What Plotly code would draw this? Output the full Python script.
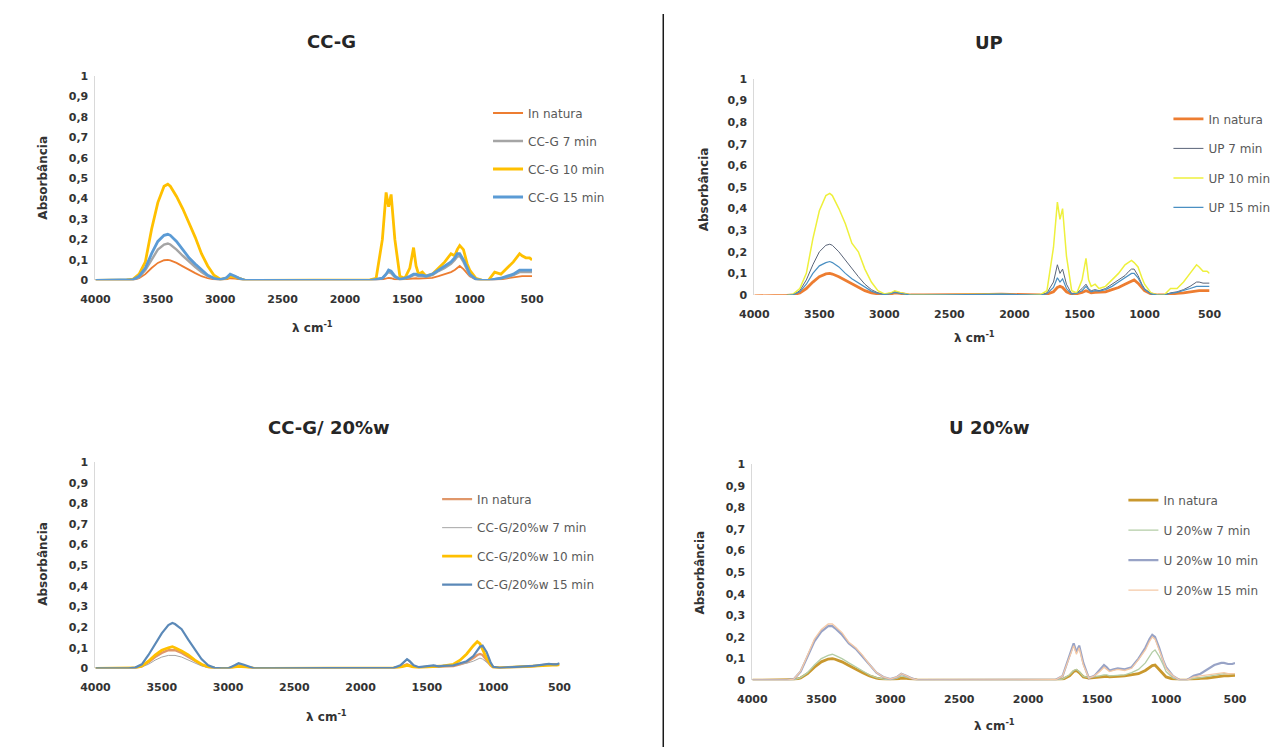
import plotly.graph_objects as go

# ---------------- data ----------------
wavenumber = [4000, 3900, 3800, 3750, 3700, 3650, 3600, 3550, 3500, 3450, 3420, 3400, 3350, 3300,
              3250, 3200, 3150, 3100, 3050, 3000, 2950, 2920, 2880, 2850, 2800, 2700, 2600, 2500,
              2400, 2300, 2200, 2100, 2000, 1900, 1800, 1750, 1700, 1670, 1650, 1630, 1600, 1560,
              1520, 1480, 1450, 1430, 1410, 1380, 1350, 1300, 1250, 1200, 1150, 1120, 1100, 1080,
              1050, 1020, 1000, 950, 900, 850, 800, 750, 700, 650, 600, 580, 550, 520, 500]

# Panel 1: CC-G
ccg_natura = [0, 0, 0, 0, 0.001, 0.01, 0.03, 0.06, 0.085, 0.098, 0.10, 0.097, 0.085, 0.068,
              0.05, 0.035, 0.02, 0.01, 0.004, 0.001, 0.005, 0.01, 0.008, 0.004, 0, 0, 0, 0,
              0, 0.002, 0, 0, 0, 0, 0, 0.002, 0.005, 0.01, 0.012, 0.01, 0.005, 0.003,
              0.005, 0.008, 0.01, 0.01, 0.008, 0.01, 0.01, 0.012, 0.02, 0.03, 0.04, 0.05, 0.06, 0.07,
              0.055, 0.035, 0.02, 0.005, 0, 0, 0.002, 0.005, 0.01, 0.015, 0.02, 0.02, 0.02, 0.02, 0.02]
ccg_7 = [0, 0, 0, 0, 0.002, 0.015, 0.05, 0.10, 0.15, 0.175, 0.18, 0.175, 0.15, 0.12,
         0.09, 0.065, 0.04, 0.02, 0.008, 0.002, 0.01, 0.025, 0.018, 0.01, 0, 0, 0, 0,
         0, 0.003, 0, 0, 0, 0, 0, 0.004, 0.01, 0.03, 0.04, 0.035, 0.015, 0.005,
         0.008, 0.015, 0.025, 0.025, 0.02, 0.02, 0.018, 0.025, 0.045, 0.06, 0.08, 0.10, 0.115, 0.12,
         0.09, 0.05, 0.025, 0.005, 0, 0, 0.004, 0.01, 0.015, 0.025, 0.04, 0.04, 0.04, 0.04, 0.04]
ccg_10 = [0, 0, 0, 0.002, 0.005, 0.03, 0.09, 0.25, 0.38, 0.46, 0.47, 0.46, 0.41, 0.35,
          0.28, 0.21, 0.13, 0.07, 0.025, 0.005, 0.01, 0.02, 0.015, 0.008, 0, 0, 0, 0,
          0, 0.002, 0, 0, 0, 0, 0.002, 0.01, 0.2, 0.43, 0.36, 0.42, 0.2, 0.02,
          0.01, 0.06, 0.16, 0.07, 0.03, 0.04, 0.02, 0.03, 0.06, 0.09, 0.13, 0.12, 0.15, 0.17,
          0.15, 0.08, 0.05, 0.01, 0, 0, 0.04, 0.03, 0.06, 0.09, 0.13, 0.12, 0.11, 0.11, 0.10]
ccg_15 = [0, 0, 0, 0, 0.003, 0.02, 0.06, 0.13, 0.19, 0.22, 0.225, 0.22, 0.19, 0.15,
          0.11, 0.08, 0.05, 0.025, 0.01, 0.003, 0.012, 0.03, 0.02, 0.01, 0, 0, 0, 0,
          0, 0.003, 0, 0, 0, 0, 0, 0.004, 0.01, 0.03, 0.05, 0.045, 0.02, 0.005,
          0.01, 0.02, 0.03, 0.03, 0.025, 0.025, 0.02, 0.03, 0.05, 0.07, 0.09, 0.11, 0.13, 0.13,
          0.10, 0.06, 0.03, 0.005, 0, 0, 0.005, 0.01, 0.02, 0.03, 0.05, 0.05, 0.05, 0.05, 0.05]

# Panel 2: UP
up_natura = [-0.004, -0.004, -0.003, -0.002, 0.001, 0.01, 0.03, 0.06, 0.085, 0.098, 0.10, 0.097, 0.085, 0.068,
             0.05, 0.035, 0.02, 0.01, 0.004, 0.001, 0.005, 0.01, 0.008, 0.004, 0, 0, 0, 0.002,
             0, 0.002, 0.003, 0.004, 0.002, 0, 0, 0.004, 0.015, 0.035, 0.04, 0.035, 0.015, 0.004,
             0.006, 0.012, 0.02, 0.015, 0.01, 0.012, 0.012, 0.015, 0.025, 0.035, 0.05, 0.06, 0.065, 0.07,
             0.055, 0.035, 0.02, 0.005, 0, 0, 0.005, 0.008, 0.01, 0.015, 0.02, 0.02, 0.02, 0.02, 0.02]
up_7 = [-0.004, -0.004, -0.003, -0.002, 0.002, 0.02, 0.07, 0.14, 0.20, 0.23, 0.235, 0.23, 0.20, 0.16,
        0.12, 0.085, 0.05, 0.025, 0.01, 0.003, 0.008, 0.015, 0.01, 0.006, 0, 0, 0, 0.002,
        0, 0.002, 0.003, 0.004, 0.002, 0, 0, 0.01, 0.06, 0.14, 0.10, 0.12, 0.05, 0.005,
        0.01, 0.03, 0.05, 0.03, 0.02, 0.025, 0.02, 0.03, 0.05, 0.07, 0.09, 0.11, 0.12, 0.12,
        0.09, 0.05, 0.03, 0.005, 0, 0, 0.01, 0.015, 0.025, 0.04, 0.06, 0.06, 0.055, 0.055, 0.055]
up_10 = [-0.004, -0.004, -0.003, -0.002, 0.005, 0.03, 0.10, 0.26, 0.39, 0.46, 0.47, 0.46, 0.40, 0.33,
         0.24, 0.20, 0.12, 0.06, 0.02, 0.005, 0.01, 0.02, 0.012, 0.008, 0, 0, 0, 0.002,
         0, 0.002, 0.003, 0.004, 0.002, 0, 0.002, 0.02, 0.22, 0.43, 0.35, 0.40, 0.18, 0.02,
         0.01, 0.07, 0.17, 0.07, 0.04, 0.05, 0.03, 0.04, 0.07, 0.10, 0.14, 0.15, 0.16, 0.15,
         0.13, 0.08, 0.05, 0.01, 0, 0, 0.03, 0.03, 0.06, 0.10, 0.14, 0.13, 0.11, 0.11, 0.10]
up_15 = [-0.004, -0.004, -0.003, -0.002, 0.002, 0.015, 0.05, 0.10, 0.135, 0.15, 0.155, 0.15, 0.13, 0.10,
         0.075, 0.055, 0.035, 0.018, 0.007, 0.002, 0.006, 0.012, 0.008, 0.005, 0, 0, 0, 0.002,
         0, 0.002, 0.003, 0.004, 0.002, 0, 0, 0.006, 0.035, 0.08, 0.06, 0.075, 0.03, 0.004,
         0.008, 0.02, 0.04, 0.025, 0.015, 0.02, 0.018, 0.025, 0.04, 0.06, 0.08, 0.095, 0.10, 0.10,
         0.08, 0.045, 0.025, 0.005, 0, 0, 0.008, 0.012, 0.02, 0.03, 0.04, 0.04, 0.04, 0.04, 0.04]

# Panel 3: CC-G / 20%w
ccg20_natura = [0, 0, 0, 0, 0.002, 0.01, 0.03, 0.055, 0.075, 0.088, 0.09, 0.088, 0.075, 0.055,
                0.035, 0.018, 0.006, 0.001, 0, 0, 0.008, 0.012, 0.01, 0.005, 0, 0, 0, 0,
                0, 0.002, 0, 0.002, 0.002, 0, 0, 0.002, 0.008, 0.015, 0.02, 0.015, 0.008, 0.005,
                0.006, 0.008, 0.01, 0.01, 0.01, 0.01, 0.01, 0.012, 0.02, 0.03, 0.05, 0.065, 0.07, 0.065,
                0.04, 0.015, 0.005, 0.003, 0.005, 0.005, 0.006, 0.008, 0.01, 0.015, 0.018, 0.02, 0.02, 0.018, 0.02]
ccg20_7 = [0, 0, 0, 0, 0.001, 0.008, 0.02, 0.04, 0.055, 0.063, 0.065, 0.063, 0.055, 0.04,
           0.025, 0.012, 0.004, 0.001, 0, 0, 0.015, 0.02, 0.015, 0.008, 0, 0, 0, 0,
           0, 0.002, 0, 0.002, 0.002, 0, 0, 0.003, 0.012, 0.03, 0.04, 0.03, 0.012, 0.006,
           0.008, 0.012, 0.015, 0.012, 0.01, 0.012, 0.012, 0.015, 0.02, 0.025, 0.035, 0.045, 0.05, 0.045,
           0.03, 0.012, 0.005, 0.003, 0.005, 0.005, 0.006, 0.008, 0.012, 0.015, 0.02, 0.022, 0.02, 0.02, 0.022]
ccg20_10 = [0, 0, 0, 0, 0.002, 0.012, 0.035, 0.065, 0.088, 0.10, 0.105, 0.10, 0.085, 0.065,
            0.04, 0.02, 0.007, 0.001, 0, 0, 0.006, 0.01, 0.008, 0.004, 0, 0, 0, 0,
            0, 0.002, 0, 0.002, 0.002, 0, 0, 0.002, 0.006, 0.012, 0.015, 0.012, 0.006, 0.004,
            0.005, 0.008, 0.01, 0.01, 0.01, 0.012, 0.015, 0.02, 0.04, 0.07, 0.11, 0.13, 0.12, 0.09,
            0.05, 0.02, 0.006, 0.003, 0.005, 0.005, 0.006, 0.008, 0.01, 0.014, 0.016, 0.018, 0.016, 0.016, 0.018]
ccg20_15 = [0, 0, 0, 0, 0.004, 0.02, 0.065, 0.12, 0.17, 0.21, 0.22, 0.215, 0.19, 0.14,
            0.09, 0.045, 0.015, 0.003, 0, 0, 0.015, 0.025, 0.018, 0.01, 0, 0, 0, 0,
            0, 0.002, 0, 0.002, 0.002, 0, 0, 0.003, 0.015, 0.035, 0.045, 0.035, 0.015, 0.006,
            0.008, 0.012, 0.015, 0.012, 0.01, 0.012, 0.012, 0.015, 0.025, 0.035, 0.06, 0.09, 0.105, 0.11,
            0.08, 0.03, 0.008, 0.003, 0.005, 0.005, 0.006, 0.01, 0.012, 0.016, 0.02, 0.022, 0.02, 0.02, 0.025]

# Panel 4: U 20%w
u20_natura = [0, 0, 0, 0, 0.002, 0.01, 0.03, 0.06, 0.085, 0.098, 0.10, 0.097, 0.085, 0.068,
              0.05, 0.035, 0.02, 0.01, 0.004, 0.001, 0.005, 0.01, 0.008, 0.004, 0, 0, 0, 0,
              0, 0.002, 0, 0, 0, 0, 0, 0.004, 0.02, 0.04, 0.045, 0.035, 0.015, 0.01,
              0.012, 0.015, 0.018, 0.018, 0.015, 0.018, 0.018, 0.02, 0.025, 0.03, 0.045, 0.06, 0.068, 0.07,
              0.05, 0.03, 0.015, 0.005, 0, 0, 0.005, 0.008, 0.01, 0.015, 0.02, 0.02, 0.02, 0.02, 0.022]
u20_7 = [0, 0, 0, 0, 0.002, 0.012, 0.035, 0.07, 0.10, 0.115, 0.12, 0.115, 0.10, 0.08,
         0.06, 0.04, 0.024, 0.012, 0.005, 0.002, 0.01, 0.02, 0.015, 0.008, 0, 0, 0, 0,
         0, 0.002, 0, 0, 0, 0, 0, 0.005, 0.025, 0.045, 0.05, 0.04, 0.018, 0.012,
         0.015, 0.02, 0.025, 0.025, 0.02, 0.022, 0.022, 0.025, 0.035, 0.05, 0.08, 0.11, 0.13, 0.14,
         0.11, 0.07, 0.04, 0.01, 0, 0, 0.008, 0.012, 0.018, 0.025, 0.03, 0.03, 0.03, 0.03, 0.03]
u20_10 = [0, 0, 0, 0, 0.005, 0.04, 0.11, 0.18, 0.225, 0.25, 0.25, 0.24, 0.21, 0.17,
          0.145, 0.11, 0.07, 0.035, 0.015, 0.005, 0.015, 0.03, 0.02, 0.01, 0, 0, 0, 0,
          0, 0.002, 0, 0, 0, 0, 0.002, 0.02, 0.12, 0.17, 0.13, 0.16, 0.08, 0.01,
          0.02, 0.05, 0.07, 0.06, 0.045, 0.05, 0.055, 0.05, 0.06, 0.10, 0.15, 0.19, 0.21, 0.20,
          0.15, 0.09, 0.06, 0.02, 0, 0, 0.02, 0.03, 0.05, 0.07, 0.08, 0.08, 0.075, 0.075, 0.08]
u20_15 = [0, 0, 0, 0, 0.005, 0.042, 0.115, 0.19, 0.235, 0.26, 0.26, 0.25, 0.22, 0.175,
          0.15, 0.115, 0.072, 0.036, 0.015, 0.005, 0.015, 0.03, 0.02, 0.01, 0, 0, 0, 0,
          0, 0.002, 0, 0, 0, 0, 0.002, 0.02, 0.11, 0.16, 0.12, 0.15, 0.07, 0.01,
          0.02, 0.04, 0.06, 0.05, 0.04, 0.045, 0.05, 0.045, 0.055, 0.095, 0.14, 0.18, 0.20, 0.19,
          0.14, 0.085, 0.055, 0.02, 0, 0, 0.015, 0.02, 0.025, 0.03, 0.035, 0.035, 0.03, 0.03, 0.03]

panel_titles = ["CC-G", "UP", "CC-G/ 20%w", "U 20%w"]
panel_series = [
    [("In natura", ccg_natura), ("CC-G 7 min", ccg_7), ("CC-G 10 min", ccg_10), ("CC-G 15 min", ccg_15)],
    [("In natura", up_natura), ("UP 7 min", up_7), ("UP 10 min", up_10), ("UP 15 min", up_15)],
    [("In natura", ccg20_natura), ("CC-G/20%w 7 min", ccg20_7), ("CC-G/20%w 10 min", ccg20_10),
     ("CC-G/20%w 15 min", ccg20_15)],
    [("In natura", u20_natura), ("U 20%w 7 min", u20_7), ("U 20%w 10 min", u20_10), ("U 20%w 15 min", u20_15)],
]

x_tick_vals = [4000, 3500, 3000, 2500, 2000, 1500, 1000, 500]
x_tick_text = ["4000", "3500", "3000", "2500", "2000", "1500", "1000", "500"]
y_tick_vals = [0, 0.1, 0.2, 0.3, 0.4, 0.5, 0.6, 0.7, 0.8, 0.9, 1]
y_tick_text = ["0", "0,1", "0,2", "0,3", "0,4", "0,5", "0,6", "0,7", "0,8", "0,9", "1"]

# ---------------- styling ----------------
W, H = 1286, 747
FONT = "DejaVu Sans"
TXT = "#333333"

panel_colors = [
    ["#ED7D31", "#A5A5A5", "#FFC000", "#5B9BD5"],
    ["#ED7D31", "#5A6478", "#EEF03C", "#4A8FC2"],
    ["#E0976A", "#A5A5A5", "#FFC000", "#5B89B8"],
    ["#C9982E", "#B3CDA6", "#98A3C6", "#F5C9A6"],
]
panel_widths = [
    [1.8, 2.4, 2.8, 2.8],
    [2.8, 1.0, 1.5, 1.2],
    [2.4, 1.0, 2.8, 2.2],
    [2.8, 1.3, 2.2, 1.3],
]

# plot areas in pixels: (left, right, top(y=1), bottom(y=0))
areas = [
    (74, 520, 63, 271),
    (747, 1212, 66, 286),
    (74, 548, 456, 666),
    (745, 1238, 458, 678),
]
title_pos = [(315, 28), (987, 29), (313, 421), (987, 421)]
ytitle_pos = [(21, 167), (695, 178), (21, 560), (692, 568)]
xtitle_pos = [(296, 319), (972, 329), (310, 714), (992, 724)]
legend_pos = [(475, 86), (1170, 92), (423, 479), (1124, 480)]
legend_gap = [9, 10.5, 9.5, 11]
SEP_X = 654


def px(x):
    return x / W


def py(y):
    return 1 - y / H


fig = go.Figure()
annotations = []
layout_axes = {}

for i in range(4):
    n = i + 1
    xa = "x" if n == 1 else f"x{n}"
    ya = "y" if n == 1 else f"y{n}"
    lg = "legend" if n == 1 else f"legend{n}"
    for j, (name, vals) in enumerate(panel_series[i]):
        fig.add_trace(go.Scatter(
            x=wavenumber, y=vals, mode="lines", name=name,
            line=dict(color=panel_colors[i][j], width=panel_widths[i][j]),
            xaxis=xa, yaxis=ya, legend=lg, legendgroup=f"p{n}_{j}",
        ))
    l, r, t, b = areas[i]
    layout_axes[f"xaxis{'' if n == 1 else n}"] = dict(
        domain=[px(l), px(r)], range=[4000, 500], anchor=ya,
        tickvals=x_tick_vals, ticktext=x_tick_text,
        showgrid=False, zeroline=False, showline=False,
        ticks="", ticklabelstandoff=11,
        tickfont=dict(family=FONT, size=11, color=TXT, weight="bold"),
    )
    layout_axes[f"yaxis{'' if n == 1 else n}"] = dict(
        domain=[py(b), py(t)], range=[0, 1], anchor=xa,
        tickvals=y_tick_vals, ticktext=y_tick_text,
        showgrid=False, zeroline=False, showline=True, linecolor="#D9D9D9", linewidth=1,
        ticks="", ticklabelstandoff=4,
        tickfont=dict(family=FONT, size=11, color=TXT, weight="bold"),
    )
    lx, ly = legend_pos[i]
    layout_axes[lg] = dict(
        x=px(lx), y=py(ly), xanchor="left", yanchor="top",
        bgcolor="rgba(0,0,0,0)", font=dict(family=FONT, size=12, color="#595959"),
        tracegroupgap=legend_gap[i], itemwidth=30,
    )
    tx, ty = title_pos[i]
    annotations.append(dict(text=panel_titles[i], x=px(tx), y=py(ty), xref="paper", yref="paper",
                            showarrow=False, xanchor="center", yanchor="middle",
                            font=dict(family=FONT, size=18, color="#262626", weight="bold")))
    yx, yy = ytitle_pos[i]
    annotations.append(dict(text="Absorbância", x=px(yx), y=py(yy), xref="paper", yref="paper",
                            showarrow=False, xanchor="center", yanchor="middle", textangle=-90,
                            font=dict(family=FONT, size=12, color=TXT, weight="bold")))
    xx, xy = xtitle_pos[i]
    annotations.append(dict(text="λ cm<sup>-1</sup>", x=px(xx), y=py(xy), xref="paper", yref="paper",
                            showarrow=False, xanchor="center", yanchor="middle",
                            font=dict(family=FONT, size=12, color=TXT, weight="bold")))

fig.update_layout(
    width=W, height=H, margin=dict(l=0, r=0, t=0, b=0),
    paper_bgcolor="white", plot_bgcolor="white",
    annotations=annotations,
    shapes=[dict(type="line", xref="paper", yref="paper", x0=px(SEP_X), x1=px(SEP_X), y0=0, y1=1,
                 line=dict(color="#1A1A1A", width=1.5))],
    **layout_axes,
)

fig.write_html("out.html")
